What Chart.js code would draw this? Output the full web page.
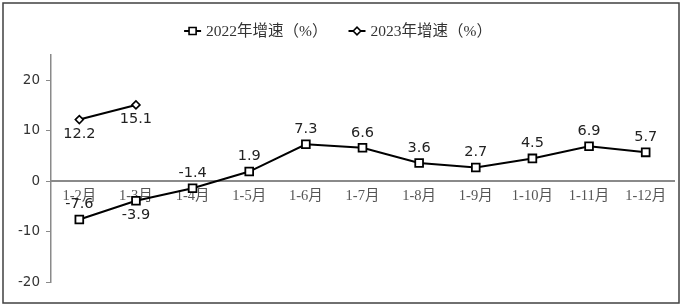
<!DOCTYPE html>
<html><head><meta charset="utf-8">
<script src="https://cdn.jsdelivr.net/npm/chart.js@4/dist/chart.umd.min.js"></script>
<style>html,body{margin:0;padding:0;background:#fff}canvas{display:block}</style>
</head><body>
<canvas id="c" width="683" height="308"></canvas>
<script>
const categories = ['1-2月','1-3月','1-4月','1-5月','1-6月','1-7月','1-8月','1-9月','1-10月','1-11月','1-12月'];
const growth2022 = [-7.6,-3.9,-1.4,1.9,7.3,6.6,3.6,2.7,4.5,6.9,5.7];
const growth2023 = [12.2,15.1,null,null,null,null,null,null,null,null,null];
const seriesNames = ['2022年增速（%）','2023年增速（%）'];
const yTickValues = [-20,-10,0,10,20];

const labelFont = '14.5px "DejaVu Sans", Verdana, sans-serif';
const serifFont = '15.5px "Liberation Serif", "Noto Sans CJK SC", serif';

function drawMarker(ctx, style, x, y, r, bw) {
  ctx.save();
  ctx.beginPath();
  if (style === 'rect') {
    const s = Math.SQRT1_2 * r;
    ctx.rect(x - s, y - s, 2 * s, 2 * s);
  } else {
    ctx.moveTo(x - r, y); ctx.lineTo(x, y - r); ctx.lineTo(x + r, y); ctx.lineTo(x, y + r); ctx.closePath();
  }
  ctx.fillStyle = '#fff'; ctx.fill();
  ctx.lineWidth = bw; ctx.strokeStyle = '#000'; ctx.stroke();
  ctx.restore();
}

const framePlugin = {
  id: 'frame',
  beforeDraw(chart) {
    const ctx = chart.ctx;
    ctx.save(); ctx.fillStyle = '#fff'; ctx.fillRect(0, 0, chart.width, chart.height); ctx.restore();
  },
  afterDraw(chart) {
    const ctx = chart.ctx;
    ctx.save();
    ctx.strokeStyle = '#404040'; ctx.lineWidth = 1.5;
    ctx.strokeRect(3, 3, 676, 300);
    // legend
    ctx.font = serifFont; ctx.fillStyle = '#333'; ctx.textBaseline = 'middle';
    const iconW = 17, gap = 5, spacing = 21, cy = 31, center = 338;
    const items = chart.data.datasets.map(d => ({ds: d, w: ctx.measureText(d.label).width}));
    let total = 0;
    items.forEach((it, i) => { total += iconW + gap + it.w + (i ? spacing : 0); });
    let x = center - total / 2;
    items.forEach((it, i) => {
      if (i) x += spacing;
      ctx.beginPath(); ctx.moveTo(x, cy); ctx.lineTo(x + iconW, cy);
      ctx.lineWidth = 2; ctx.strokeStyle = '#000'; ctx.stroke();
      drawMarker(ctx, it.ds.pointStyle, x + iconW / 2, cy, it.ds.pointStyle === 'rect' ? 5 : 3.8, 1.6);
      ctx.fillStyle = '#333'; ctx.textAlign = 'left';
      ctx.fillText(it.ds.label, x + iconW + gap, cy + 0.5);
      x += iconW + gap + it.w;
    });
    ctx.restore();
  },
  afterDatasetsDraw(chart) {
    const ctx = chart.ctx;
    ctx.save();
    ctx.font = labelFont; ctx.fillStyle = '#222'; ctx.textAlign = 'center'; ctx.textBaseline = 'middle';
    chart.data.datasets.forEach((ds, di) => {
      const meta = chart.getDatasetMeta(di);
      meta.data.forEach((pt, i) => {
        const v = ds.data[i];
        if (v === null || v === undefined) return;
        const below = ds.labelBelow && ds.labelBelow(i);
        const off = below ? 14.5 : -15;
        ctx.fillText(v.toFixed(1), pt.x, pt.y + off);
      });
    });
    ctx.restore();
  }
};

new Chart(document.getElementById('c'), {
  type: 'line',
  data: {
    labels: categories,
    datasets: [
      { label: seriesNames[0], data: growth2022, borderColor: '#000', borderWidth: 2,
        pointStyle: 'rect', pointRadius: 5.5, pointBorderWidth: 1.8, pointBackgroundColor: '#fff', pointBorderColor: '#000',
        tension: 0, labelBelow: i => i === 1 },
      { label: seriesNames[1], data: growth2023, borderColor: '#000', borderWidth: 2,
        pointStyle: 'rectRot', pointRadius: 4, pointBorderWidth: 1.6, pointBackgroundColor: '#fff', pointBorderColor: '#000',
        tension: 0, labelBelow: () => true }
    ]
  },
  options: {
    responsive: false, animation: false,
    layout: { padding: { top: 55, left: 0, right: 9, bottom: 26 } },
    plugins: { legend: { display: false }, tooltip: { enabled: false } },
    scales: {
      x: {
        type: 'category', offset: true, position: { y: 0 },
        grid: { display: false, drawTicks: false },
        border: { display: true, color: '#8a8a8a', width: 2 },
        ticks: { font: { family: '"Liberation Serif", "Noto Sans CJK SC", serif', size: 14.5 }, color: '#555', padding: 6, maxRotation: 0, autoSkip: false },
        afterFit(s) { s.height = 0; }
      },
      y: {
        min: -20, max: 25,
        afterBuildTicks(s) { s.ticks = yTickValues.map(v => ({ value: v })); },
        grid: { drawOnChartArea: false, drawTicks: true, tickLength: 5, color: '#8a8a8a', lineWidth: 1 },
        border: { display: true, color: '#8a8a8a', width: 1.5 },
        ticks: { font: { family: '"DejaVu Sans", Verdana, sans-serif', size: 13.5 }, color: '#333', padding: 6 },
        afterFit(s) { s.width = 51; }
      }
    }
  },
  plugins: [framePlugin]
});
</script>
</body></html>
